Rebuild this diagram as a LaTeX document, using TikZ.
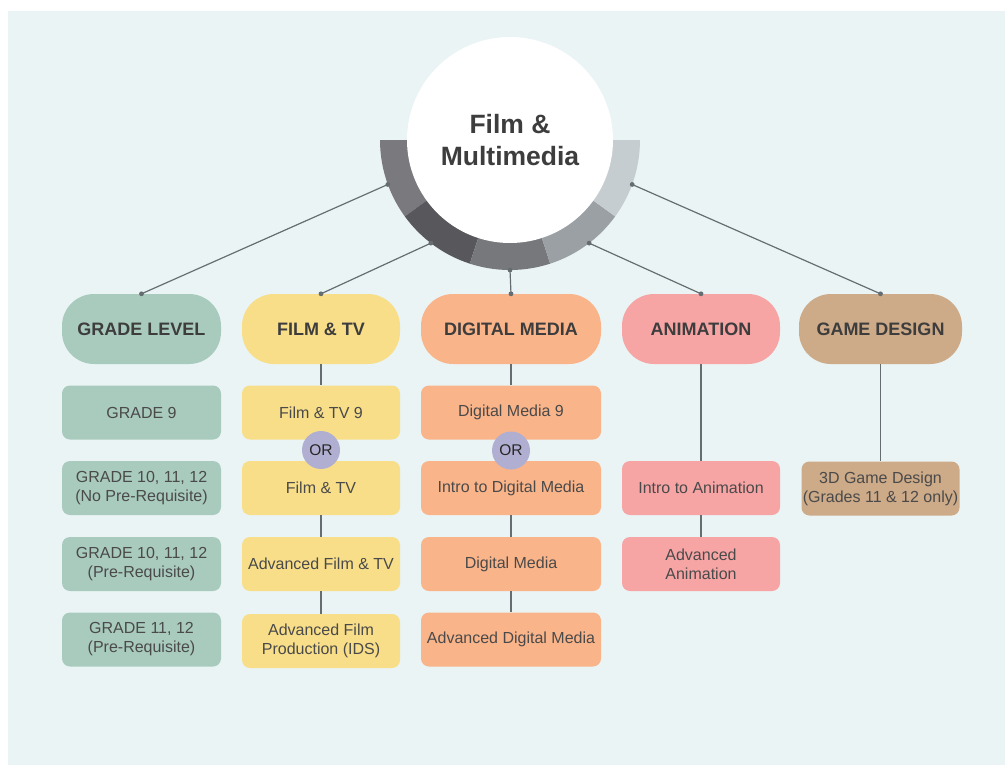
\documentclass[tikz,border=0pt]{standalone}
\usepackage{fontspec}
\setmainfont{Liberation Sans}
\usetikzlibrary{calc}
\definecolor{bg}{HTML}{EAF4F5}
\definecolor{segA}{HTML}{7A797E}
\definecolor{segB}{HTML}{58575C}
\definecolor{segC}{HTML}{77787C}
\definecolor{segD}{HTML}{9BA0A4}
\definecolor{segE}{HTML}{C6CDD0}
\definecolor{gradec}{HTML}{A9CBBE}
\definecolor{filmc}{HTML}{F8DE89}
\definecolor{digic}{HTML}{FAB489}
\definecolor{animc}{HTML}{F7A4A4}
\definecolor{gamec}{HTML}{CDAA88}
\definecolor{orc}{HTML}{B1AFD1}
\definecolor{linec}{HTML}{656D70}
\definecolor{htext}{HTML}{3D3D3D}
\definecolor{btext}{HTML}{4A4A4A}
\begin{document}
\begin{tikzpicture}[x=1pt,y=-1pt,
  hdr/.style={rectangle, rounded corners=32pt, minimum height=70pt, inner sep=0pt,
    font=\bfseries\fontsize{18}{22}\selectfont, text=htext},
  sub/.style={rectangle, rounded corners=8pt, minimum height=54pt, inner sep=0pt,
    align=center, font=\fontsize{16}{19}\selectfont, text=btext},
  orbub/.style={circle, fill=orc, minimum size=38pt, inner sep=0pt,
    font=\fontsize{15.5}{18}\selectfont, text=black!85},
  conn/.style={draw=linec, line width=1.2pt},
  dotc/.style={fill=linec}]
\useasboundingbox (0,0) rectangle (1005,772);
\fill[white] (0,0) rectangle (1005,772);
\fill[bg] (8,11) rectangle (1005,765);

% ring
\coordinate (c) at (510,140);
\foreach \a/\col in {144/segA,108/segB,72/segC,36/segD,0/segE}{
  \pgfmathsetmacro{\b}{\a+36}
  \fill[\col] ($(c)+(\a:130)$) arc[start angle=\a, end angle=\b, radius=130]
    -- ($(c)+(\b:100)$) arc[start angle=\b, end angle=\a, radius=100] -- cycle;
}
\coordinate (r1) at ($(c)+(160:130)$);
\coordinate (r2) at ($(c)+(127.5:130)$);
\coordinate (r3) at ($(c)+(90:130)$);
\coordinate (r4) at ($(c)+(52.5:130)$);
\coordinate (r5) at ($(c)+(20:130)$);

% hub
\node[circle, fill=white, minimum size=206pt, inner sep=0pt, align=center,
  font=\bfseries\fontsize{26.5}{32}\selectfont, text=htext] (hub) at (c) {Film \&\\Multimedia};

% headers
\node[hdr, fill=gradec, minimum width=159pt] (gl) at (141.5,329) {GRADE LEVEL};
\node[hdr, fill=filmc, minimum width=158pt] (ft) at (321,329) {FILM \& TV};
\node[hdr, fill=digic, minimum width=180pt] (dm) at (511,329) {DIGITAL MEDIA};
\node[hdr, fill=animc, minimum width=158pt] (an) at (701,329) {ANIMATION};
\node[hdr, fill=gamec, minimum width=163pt] (gd) at (880.5,329) {GAME DESIGN};

% grade column
\node[sub, fill=gradec, minimum width=159pt] (g1) at (141.5,412.5) {GRADE 9};
\node[sub, fill=gradec, minimum width=159pt] (g2) at (141.5,488) {GRADE 10, 11, 12\\(No Pre-Requisite)};
\node[sub, fill=gradec, minimum width=159pt] (g3) at (141.5,564) {GRADE 10, 11, 12\\(Pre-Requisite)};
\node[sub, fill=gradec, minimum width=159pt] (g4) at (141.5,639.5) {GRADE 11, 12\\(Pre-Requisite)};

% film column
\node[sub, fill=filmc, minimum width=158pt] (f1) at (321,412.5) {Film \& TV 9};
\node[sub, fill=filmc, minimum width=158pt] (f2) at (321,488) {Film \& TV};
\node[sub, fill=filmc, minimum width=158pt] (f3) at (321,564) {Advanced Film \& TV};
\node[sub, fill=filmc, minimum width=158pt] (f4) at (321,641) {Advanced Film\\Production (IDS)};

% digital column
\node[sub, fill=digic, minimum width=180pt] (d1) at (511,412.5) {Digital Media 9};
\node[sub, fill=digic, minimum width=180pt] (d2) at (511,488) {Intro to Digital Media};
\node[sub, fill=digic, minimum width=180pt] (d3) at (511,564) {Digital Media};
\node[sub, fill=digic, minimum width=180pt] (d4) at (511,639.5) {Advanced Digital Media};

% animation column
\node[sub, fill=animc, minimum width=158pt] (a2) at (701,488) {Intro to Animation};
\node[sub, fill=animc, minimum width=158pt] (a3) at (701,564) {Advanced\\Animation};

% game column
\node[sub, fill=gamec, minimum width=158pt] (gm) at (880.5,488.5) {3D Game Design\\(Grades 11 \& 12 only)};

% vertical connectors
\draw[conn] (ft.south) -- (f1.north);
\draw[conn] (f2.south) -- (f3.north);
\draw[conn] (f3.south) -- (f4.north);
\draw[conn] (dm.south) -- (d1.north);
\draw[conn] (d2.south) -- (d3.north);
\draw[conn] (d3.south) -- (d4.north);
\draw[conn] (an.south) -- (a2.north);
\draw[conn] (a2.south) -- (a3.north);
\draw[conn] (gd.south) -- (gm.north);

% OR bubbles
\node[orbub] (or1) at (321,450) {OR};
\node[orbub] (or2) at (511,450.5) {OR};

% ring connectors
\draw[conn] (r1) -- (gl.north);
\draw[conn] (r2) -- (ft.north);
\draw[conn] (r3) -- (dm.north);
\draw[conn] (r4) -- (an.north);
\draw[conn] (r5) -- (gd.north);
\foreach \p in {r1,r2,r3,r4,r5,gl.north,ft.north,dm.north,an.north,gd.north}{
  \fill[dotc] (\p) circle[radius=2.4];
}
\end{tikzpicture}
\end{document}
